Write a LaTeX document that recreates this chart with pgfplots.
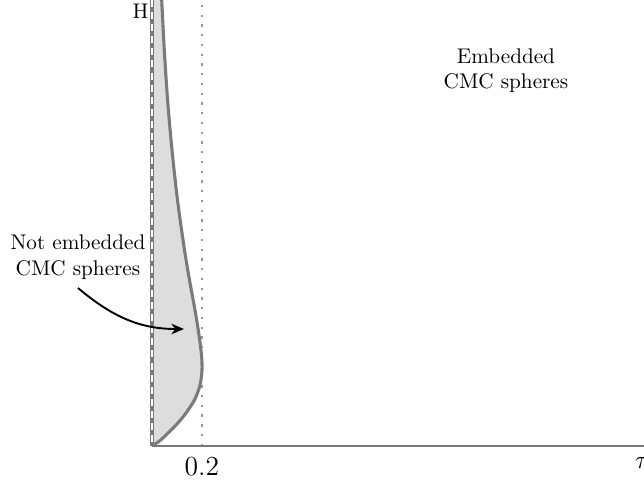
\documentclass[border=0pt]{standalone}
\usepackage{pgfplots}
\pgfplotsset{compat=1.18}
\usetikzlibrary{arrows.meta}
\definecolor{curvegray}{RGB}{122,122,122}
\definecolor{fillgray}{RGB}{221,221,221}
\definecolor{dotgray}{RGB}{150,150,150}
\begin{document}
\begin{tikzpicture}
\begin{axis}[
  scale only axis,
  width=235.85pt, height=210.38pt,
  xmin=0, xmax=2, ymin=0, ymax=446,
  axis lines=left,
  axis line style={draw=none},
  major tick length=0pt,
  xtick={0.2}, xticklabels={0.2},
  ytick=\empty,
  xticklabel style={font=\fontsize{13}{15}\selectfont, yshift=-1.5pt},
  clip=false,
]
% filled region between y-axis and curve
\addplot[draw=none, fill=fillgray, smooth] coordinates {
(0,0) (0.030,5) (0.056,11) (0.096,21) (0.130,31) (0.170,46) (0.192,61) (0.2,76)
(0.198,91) (0.188,111) (0.172,136) (0.15,166) (0.13,196) (0.102,246)
(0.08,296) (0.0624,346) (0.0492,396) (0.0388,446)
} -- (axis cs:0,446) -- cycle;
% dotted vertical line at 0.2
\draw[dotgray, line width=0.55pt, dash pattern=on 1.1pt off 3.5pt] (axis cs:0.2,0) -- (axis cs:0.2,446);
% x axis
\draw[curvegray, line width=0.9pt] (axis cs:0,0) -- (axis cs:2,0);
% y axis with white dashes
\draw[curvegray, line width=1.45pt] (axis cs:0,0) -- (axis cs:0,446);
\draw[white, line width=0.65pt, dash pattern=on 3.3pt off 2.4pt] (axis cs:0,446) -- (axis cs:0,0);
% boundary curve
\addplot[curvegray, line width=1.45pt, smooth] coordinates {
(0,0) (0.030,5) (0.056,11) (0.096,21) (0.130,31) (0.170,46) (0.192,61) (0.2,76)
(0.198,91) (0.188,111) (0.172,136) (0.15,166) (0.13,196) (0.102,246)
(0.08,296) (0.0624,346) (0.0492,396) (0.0388,446)
};
% labels
\node[font=\fontsize{10}{12}\selectfont] at (axis cs:-0.046,435) {H};
\node[font=\fontsize{13}{15}\selectfont, anchor=north, yshift=-2pt] at (axis cs:1.96,0) {$\tau$};
\node[align=center, anchor=north, inner sep=0pt, font=\fontsize{10}{12.4}\selectfont] at (axis cs:-0.296,211.5) {Not embedded\\CMC spheres};
\node[align=center, anchor=north, inner sep=0pt, font=\fontsize{10}{12}\selectfont] at (axis cs:1.416,398) {Embedded\\CMC spheres};
\draw[black, line width=0.9pt, -{Stealth[length=6pt, width=5pt]}] (axis cs:-0.296,158) to[out=-40, in=180] (axis cs:0.128,117);
% bounding box corners
\coordinate (bbll) at (axis cs:-0.608,-33);
\coordinate (bbur) at (axis cs:1.968,446);
\end{axis}
\pgfresetboundingbox
\useasboundingbox (bbll) rectangle (bbur);
\end{tikzpicture}
\end{document}
